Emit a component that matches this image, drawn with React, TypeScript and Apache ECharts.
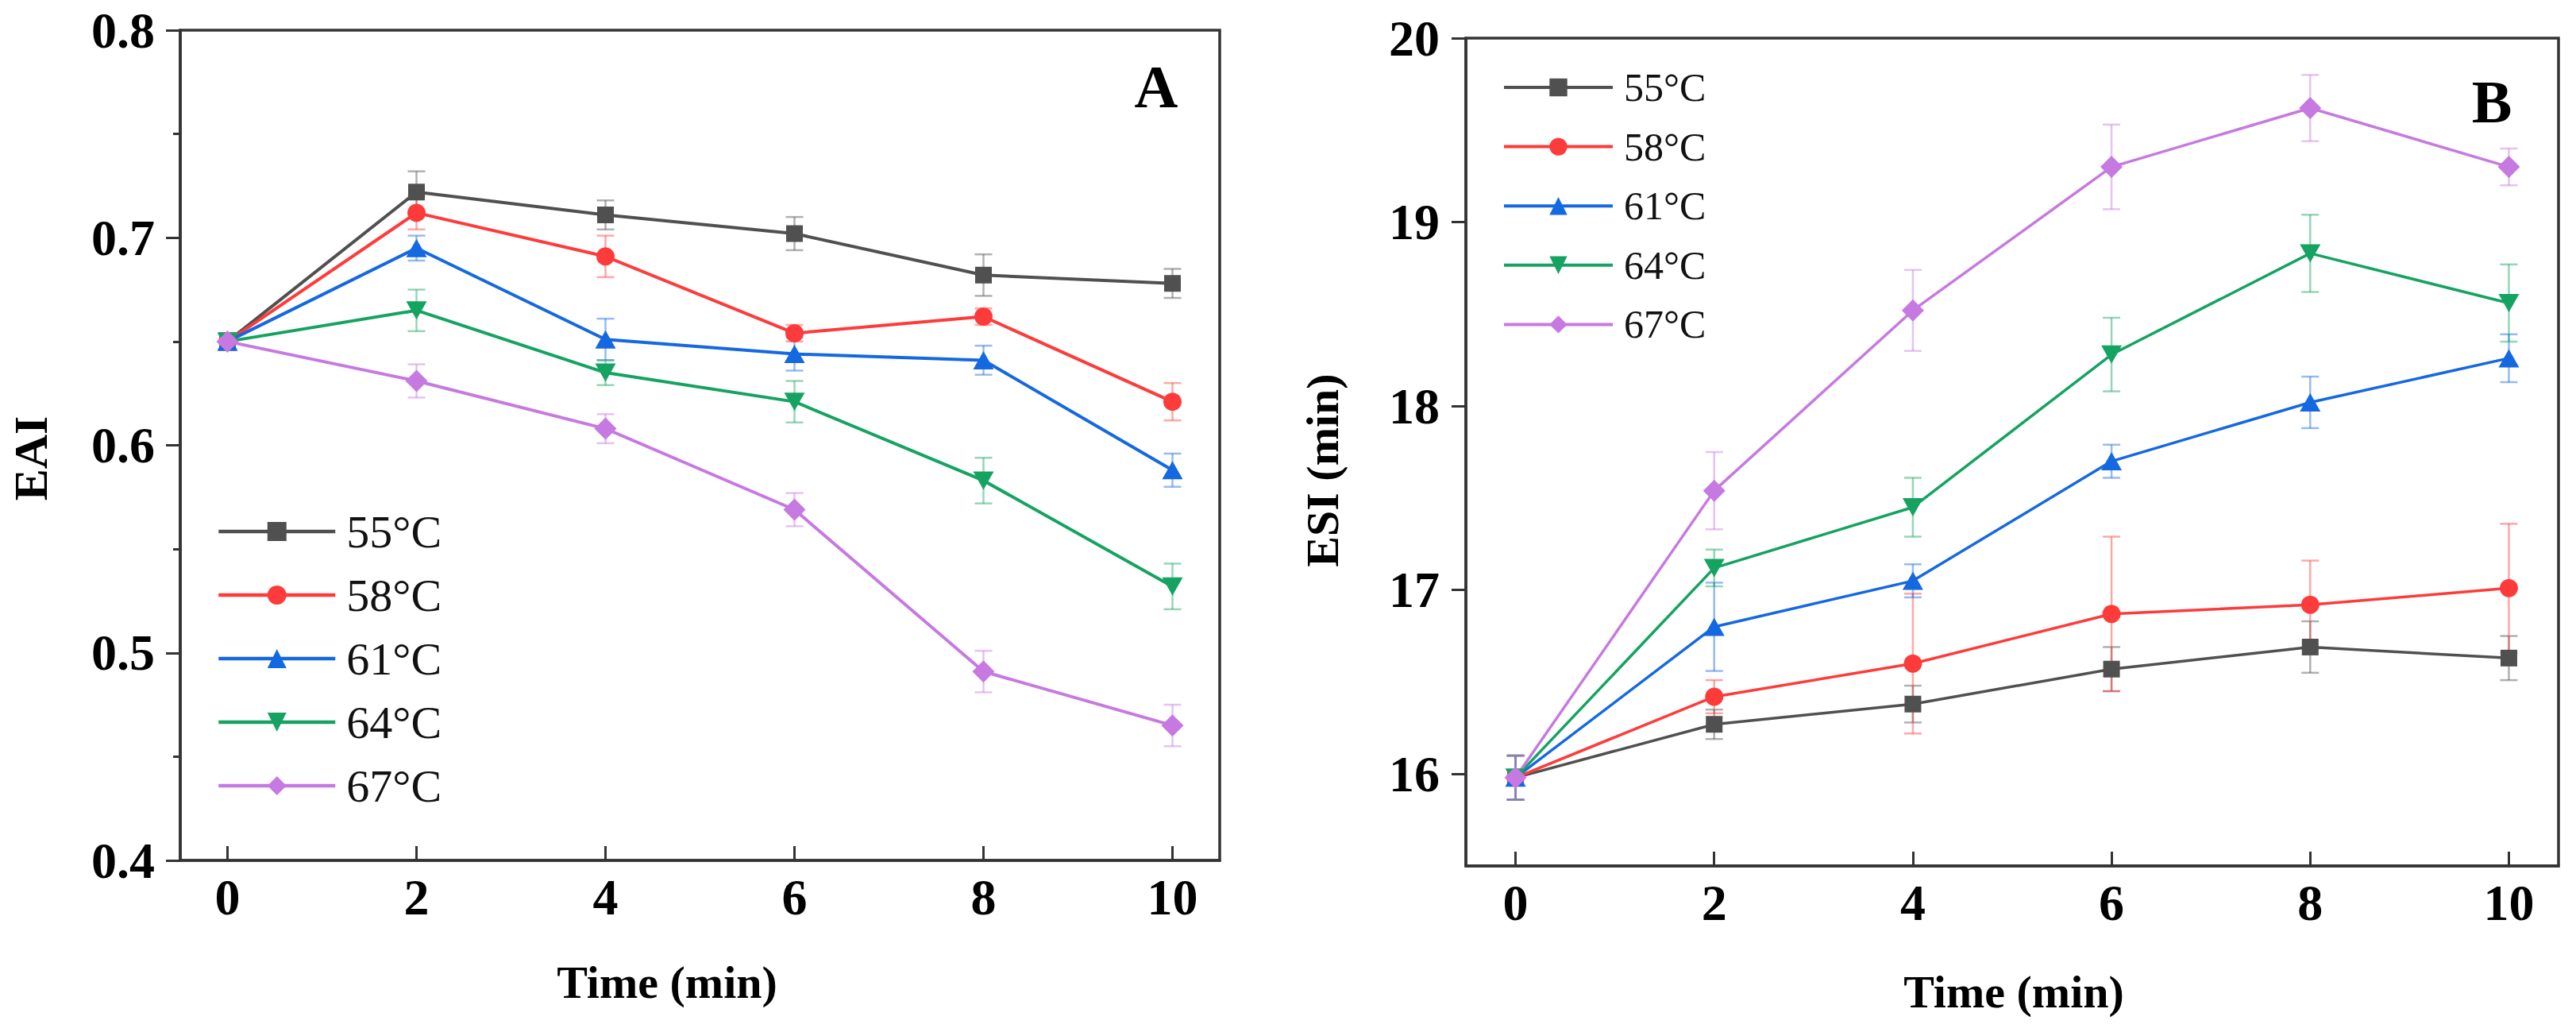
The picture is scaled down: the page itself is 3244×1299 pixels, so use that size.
import React, { useEffect, useRef } from "react";
import * as echarts from "echarts";

const times = [0, 2, 4, 6, 8, 10];
const tickValues = [0, 2, 4, 6, 8, 10];
const esiTickValues = [16, 17, 18, 19, 20];

const names = ["55°C", "58°C", "61°C", "64°C", "67°C"];

const eai55 = [0.65, 0.722, 0.711, 0.702, 0.682, 0.678];
const eai58 = [0.65, 0.712, 0.691, 0.654, 0.662, 0.621];
const eai61 = [0.65, 0.695, 0.651, 0.644, 0.641, 0.588];
const eai64 = [0.65, 0.665, 0.635, 0.621, 0.583, 0.532];
const eai67 = [0.65, 0.631, 0.608, 0.569, 0.491, 0.465];

const eaiErr55 = [0.004, 0.01, 0.007, 0.008, 0.01, 0.007];
const eaiErr58 = [0.004, 0.008, 0.01, 0.004, 0.004, 0.009];
const eaiErr61 = [0.004, 0.006, 0.01, 0.008, 0.007, 0.008];
const eaiErr64 = [0.004, 0.01, 0.006, 0.01, 0.011, 0.011];
const eaiErr67 = [0.004, 0.008, 0.007, 0.008, 0.01, 0.01];

const esi55 = [15.98, 16.27, 16.38, 16.57, 16.69, 16.63];
const esi58 = [15.98, 16.42, 16.6, 16.87, 16.92, 17.01];
const esi61 = [15.98, 16.8, 17.05, 17.7, 18.02, 18.26];
const esi64 = [15.98, 17.12, 17.45, 18.28, 18.83, 18.56];
const esi67 = [15.98, 17.54, 18.52, 19.3, 19.62, 19.3];

const esiErr55 = [0.12, 0.08, 0.1, 0.12, 0.14, 0.12];
const esiErr58 = [0.12, 0.09, 0.38, 0.42, 0.24, 0.35];
const esiErr61 = [0.12, 0.24, 0.09, 0.09, 0.14, 0.13];
const esiErr64 = [0.12, 0.1, 0.16, 0.2, 0.21, 0.21];
const esiErr67 = [0.12, 0.21, 0.22, 0.23, 0.18, 0.1];

const colors = ["#505050", "#fe3b3b", "#1468e0", "#14a360", "#c679e0"];
const symbols = [
  "rect",
  "circle",
  "triangle",
  "path://M0,0L2,0L1,1.7Z",
  "diamond",
];
const symbolSizes: any[] = [21, 23, [26, 23], [26, 23], [28, 28]];

const eaiSeries = [eai55, eai58, eai61, eai64, eai67];
const eaiErrs = [eaiErr55, eaiErr58, eaiErr61, eaiErr64, eaiErr67];
const esiSeries = [esi55, esi58, esi61, esi64, esi67];
const esiErrs = [esiErr55, esiErr58, esiErr61, esiErr64, esiErr67];

const SERIF = "'Liberation Serif', 'Times New Roman', serif";

function rgba(hex: string, a: number) {
  const n = parseInt(hex.slice(1), 16);
  return `rgba(${(n >> 16) & 255},${(n >> 8) & 255},${n & 255},${a})`;
}

function errorSeries(
  gridIdx: number,
  vals: number[],
  errs: number[],
  color: string,
  name: string
) {
  return {
    type: "custom",
    name,
    xAxisIndex: gridIdx,
    yAxisIndex: gridIdx,
    z: 1,
    silent: true,
    encode: { x: 0, y: [1, 2] },
    data: times.map((t, i) => [t, vals[i] - errs[i], vals[i] + errs[i]]),
    renderItem: (params: any, api: any) => {
      const x = api.value(0);
      const lo = api.coord([x, api.value(1)]);
      const hi = api.coord([x, api.value(2)]);
      const w = 11;
      const style = { stroke: rgba(color, 0.45), lineWidth: 2.5 };
      return {
        type: "group",
        children: [
          { type: "line", shape: { x1: lo[0], y1: lo[1], x2: hi[0], y2: hi[1] }, style },
          { type: "line", shape: { x1: lo[0] - w, y1: lo[1], x2: lo[0] + w, y2: lo[1] }, style },
          { type: "line", shape: { x1: hi[0] - w, y1: hi[1], x2: hi[0] + w, y2: hi[1] }, style },
        ],
      };
    },
  };
}

function lineSeries(gridIdx: number, vals: number[], i: number, name: string, lw: number) {
  return {
    type: "line",
    name,
    xAxisIndex: gridIdx,
    yAxisIndex: gridIdx,
    z: 3,
    data: times.map((t, k) => [t, vals[k]]),
    symbol: symbols[i],
    symbolSize: symbolSizes[i],
    showAllSymbol: true,
    lineStyle: { color: colors[i], width: lw },
    itemStyle: { color: colors[i], borderWidth: 0 },
  };
}

const axisLineStyle = { color: "#333", width: 3.5 };
const tickLabelStyle = {
  fontFamily: SERIF,
  fontWeight: "bold" as const,
  fontSize: 64,
  color: "#000",
};

export default function App() {
  const ref = useRef<HTMLDivElement>(null);
  useEffect(() => {
    document.body.style.margin = "0";
    if (!ref.current) return;
    const chart = echarts.init(ref.current, undefined, { renderer: "svg" });

    const series: any[] = [];
    eaiSeries.forEach((v, i) => {
      series.push(errorSeries(0, v, eaiErrs[i], colors[i], "EAI err " + names[i]));
    });
    esiSeries.forEach((v, i) => {
      series.push(errorSeries(1, v, esiErrs[i], colors[i], "ESI err " + names[i]));
    });
    eaiSeries.forEach((v, i) => series.push(lineSeries(0, v, i, names[i], 4)));
    esiSeries.forEach((v, i) => series.push(lineSeries(1, v, i, names[i], 3.5)));

    const xAxisBase = (gridIndex: number) => ({
      type: "value",
      gridIndex,
      min: -0.5,
      max: 10.5,
      axisLine: { show: true, onZero: false, lineStyle: axisLineStyle },
      axisTick: {
        show: true,
        inside: true,
        length: 18,
        customValues: tickValues,
        lineStyle: { color: "#333", width: 3 },
      },
      axisLabel: {
        ...tickLabelStyle,
        margin: 14,
        customValues: tickValues,
      },
      splitLine: { show: false },
    });

    const titleStyle = (text: string, size: number) => ({
      text,
      fontFamily: SERIF,
      fontWeight: "bold",
      fontSize: size,
      fill: "#000",
      textAlign: "center",
      textVerticalAlign: "middle",
    });

    chart.setOption({
      animation: false,
      backgroundColor: "#fff",
      grid: [
        {
          left: 227,
          top: 38,
          width: 1309,
          height: 1045,
          show: true,
          borderColor: "#333",
          borderWidth: 3.5,
          containLabel: false,
        },
        {
          left: 1846,
          top: 48,
          width: 1376,
          height: 1042,
          show: true,
          borderColor: "#333",
          borderWidth: 3.5,
          containLabel: false,
        },
      ],
      xAxis: [xAxisBase(0), xAxisBase(1)],
      yAxis: [
        {
          type: "value",
          gridIndex: 0,
          min: 0.4,
          max: 0.8,
          interval: 0.1,
          axisLine: { show: true, onZero: false, lineStyle: axisLineStyle },
          axisTick: {
            show: true,
            inside: false,
            length: 18,
            lineStyle: { color: "#333", width: 3 },
          },
          minorTick: {
            show: true,
            splitNumber: 2,
            length: 9,
            lineStyle: { color: "#333", width: 3 },
          },
          axisLabel: {
            ...tickLabelStyle,
            margin: 32,
            formatter: (v: number) => v.toFixed(1),
          },
          splitLine: { show: false },
          minorSplitLine: { show: false },
        },
        {
          type: "value",
          gridIndex: 1,
          min: 15.5,
          max: 20,
          axisLine: { show: true, onZero: false, lineStyle: axisLineStyle },
          axisTick: {
            show: true,
            inside: false,
            length: 18,
            customValues: esiTickValues,
            lineStyle: { color: "#333", width: 3 },
          },
          axisLabel: {
            ...tickLabelStyle,
            margin: 33,
            customValues: esiTickValues,
          },
          splitLine: { show: false },
        },
      ],
      legend: [
        {
          data: names,
          orient: "vertical",
          left: 273,
          top: 639,
          padding: 0,
          itemWidth: 147,
          itemHeight: 30,
          itemGap: 20,
          lineStyle: { width: 4.5 },
          textStyle: {
            fontFamily: SERIF,
            fontSize: 58,
            lineHeight: 60,
            color: "#111",
            padding: [0, 0, 0, 9],
          },
        },
        {
          data: names,
          orient: "vertical",
          left: 1892,
          top: 83,
          padding: 0,
          itemWidth: 137,
          itemHeight: 28,
          itemGap: 20.6,
          lineStyle: { width: 4 },
          textStyle: {
            fontFamily: SERIF,
            fontSize: 50,
            lineHeight: 54,
            color: "#111",
            padding: [0, 0, 0, 9],
          },
        },
      ],
      graphic: [
        {
          type: "text",
          x: 39,
          y: 577,
          rotation: Math.PI / 2,
          style: titleStyle("EAI", 60),
        },
        {
          type: "text",
          x: 840,
          y: 1236,
          style: titleStyle("Time (min)", 58),
        },
        {
          type: "text",
          x: 1665,
          y: 592,
          rotation: Math.PI / 2,
          style: titleStyle("ESI (min)", 58),
        },
        {
          type: "text",
          x: 2536,
          y: 1248,
          style: titleStyle("Time (min)", 58),
        },
        {
          type: "text",
          x: 1456,
          y: 109,
          style: titleStyle("A", 76),
        },
        {
          type: "text",
          x: 3138,
          y: 128,
          style: titleStyle("B", 76),
        },
      ],
      series,
    });

    return () => chart.dispose();
  }, []);

  return <div ref={ref} style={{ width: 3244, height: 1299 }} />;
}
